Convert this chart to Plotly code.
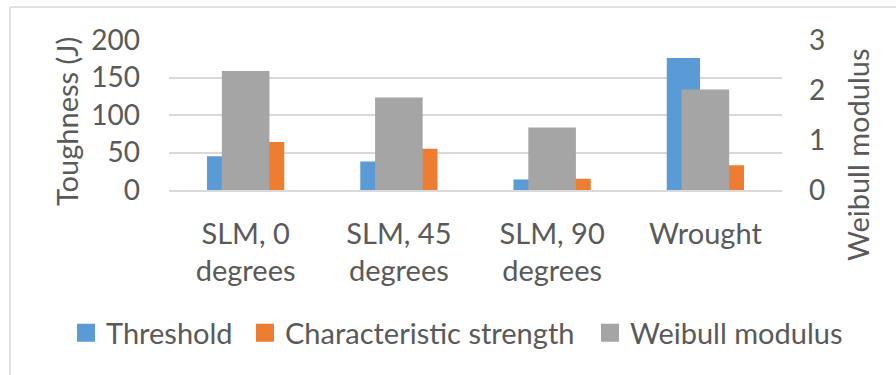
import plotly.graph_objects as go

# Charpy toughness by build orientation, with Weibull modulus on a second axis
categories = ["SLM, 0<br>degrees", "SLM, 45<br>degrees", "SLM, 90<br>degrees", "Wrought"]
threshold = [45, 38, 14, 176]
char_strength = [64, 55, 15, 33]
weibull_modulus = [2.38, 1.85, 1.25, 2.01]

series_names = ["Threshold", "Characteristic strength", "Weibull modulus"]
colors = ["#5B9BD5", "#ED7D31", "#A5A5A5"]

FONT = "Lato"
TXT = "#595959"
GRID = "#D9D9D9"

W, H = 896, 375
ML, MR, MT, MB = 169, 114, 40, 185
PW, PH = W - ML - MR, H - MT - MB


def px_x(p):
    return (p - ML) / PW


def px_y(p):
    return (H - MB - p) / PH


fig = go.Figure()

# primary-axis bars (toughness)
fig.add_trace(go.Bar(x=categories, y=threshold, name=series_names[0],
                     marker=dict(color=colors[0], line=dict(width=0)),
                     offset=-0.252, width=0.217, showlegend=False))
fig.add_trace(go.Bar(x=categories, y=char_strength, name=series_names[1],
                     marker=dict(color=colors[1], line=dict(width=0)),
                     offset=0.035, width=0.217, showlegend=False))
# secondary-axis bar (Weibull modulus), drawn over the pair
fig.add_trace(go.Bar(x=categories, y=weibull_modulus, name=series_names[2],
                     marker=dict(color=colors[2], line=dict(width=0)),
                     offset=-0.1553, width=0.3106, yaxis="y2", showlegend=False))

# one legend per series so each swatch sits at its own position
legend_ids = ["legend", "legend2", "legend3"]
legend_left = [66, 245, 590]
for name, c, lg in zip(series_names, colors, legend_ids):
    fig.add_trace(go.Scatter(x=[None], y=[None], mode="markers", name=name,
                             legend=lg,
                             marker=dict(symbol="square", size=16, color=c,
                                         line=dict(color=c, width=2))))


def legend_box(left):
    return dict(orientation="h", x=px_x(left), xanchor="left",
                y=px_y(333), yanchor="middle",
                font=dict(family=FONT, size=29, color=TXT),
                itemwidth=30, bgcolor="rgba(0,0,0,0)")


fig.update_layout(
    width=W, height=H,
    margin=dict(l=ML, r=MR, t=MT, b=MB, pad=0),
    paper_bgcolor="white", plot_bgcolor="white",
    barmode="overlay",
    font=dict(family=FONT, color=TXT, size=28),
    showlegend=True,
    legend=legend_box(legend_left[0]),
    legend2=legend_box(legend_left[1]),
    legend3=legend_box(legend_left[2]),
    xaxis=dict(showgrid=False, showline=True, linecolor=GRID, linewidth=1.5,
               ticks="", tickfont=dict(size=29, color=TXT),
               ticklabelstandoff=17, fixedrange=True),
    yaxis=dict(range=[0, 200], tickvals=[0, 50, 100, 150, 200],
               showgrid=True, gridcolor=GRID, gridwidth=1.5,
               zeroline=False, showline=False, ticks="",
               tickfont=dict(size=28, color=TXT), ticklabelstandoff=28),
    yaxis2=dict(range=[0, 3], tickvals=[0, 1, 2, 3], overlaying="y", side="right",
                showgrid=False, zeroline=False, showline=False, ticks="",
                tickfont=dict(size=28, color=TXT), ticklabelstandoff=26),
)

# axis titles
fig.add_annotation(text="Toughness (J)", xref="paper", yref="paper",
                   x=px_x(66), y=px_y(122), xanchor="center", yanchor="middle",
                   textangle=-90, showarrow=False,
                   font=dict(family=FONT, size=29, color=TXT))
fig.add_annotation(text="Weibull modulus", xref="paper", yref="paper",
                   x=px_x(857), y=px_y(155), xanchor="center", yanchor="middle",
                   textangle=-90, showarrow=False,
                   font=dict(family=FONT, size=29, color=TXT))

# chart frame
fig.add_shape(type="line", xref="paper", yref="paper",
              x0=px_x(10), x1=px_x(10), y0=px_y(7), y1=px_y(380),
              line=dict(color=GRID, width=1.5))
fig.add_shape(type="line", xref="paper", yref="paper",
              x0=px_x(10), x1=px_x(900), y0=px_y(7), y1=px_y(7),
              line=dict(color=GRID, width=1.5))

fig.write_html("out.html")
